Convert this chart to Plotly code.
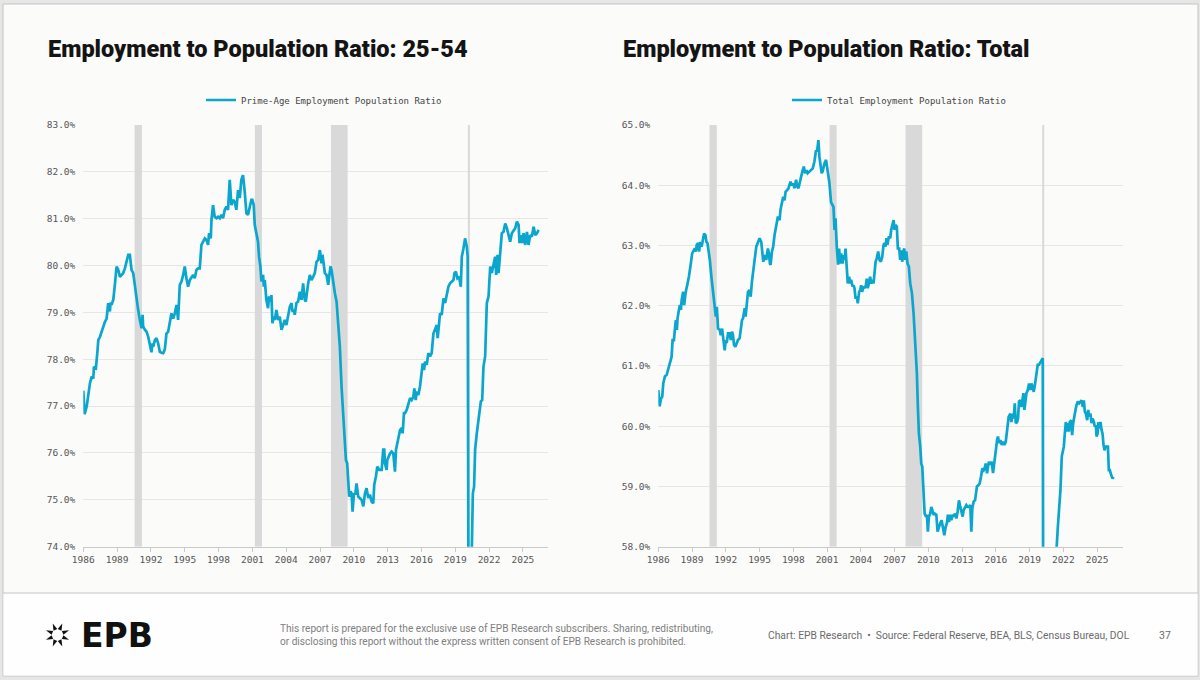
import math
import plotly.graph_objects as go

# ---------------- data ----------------
prime_years = [
    1986.00, 1986.12, 1986.30, 1986.59, 1986.74, 1986.89, 1986.94, 1987.12, 1987.24, 1987.33,
    1987.48, 1987.62, 1987.77, 1987.92, 1988.07, 1988.21, 1988.36, 1988.42, 1988.51, 1988.66,
    1988.80, 1988.95, 1989.10, 1989.25, 1989.40, 1989.54, 1989.69, 1989.84, 1989.99, 1990.13,
    1990.28, 1990.43, 1990.58, 1990.72, 1990.87, 1991.02, 1991.17, 1991.26, 1991.31, 1991.46,
    1991.61, 1991.76, 1991.91, 1992.05, 1992.14, 1992.20, 1992.35, 1992.49, 1992.64, 1992.79,
    1992.94, 1993.09, 1993.23, 1993.38, 1993.53, 1993.68, 1993.82, 1993.97, 1994.12, 1994.27,
    1994.41, 1994.56, 1994.71, 1994.86, 1995.00, 1995.15, 1995.30, 1995.45, 1995.60, 1995.74,
    1995.89, 1996.04, 1996.19, 1996.33, 1996.48, 1996.63, 1996.78, 1996.92, 1997.07, 1997.16,
    1997.31, 1997.37, 1997.51, 1997.66, 1997.81, 1997.96, 1998.11, 1998.25, 1998.40, 1998.55,
    1998.70, 1998.84, 1998.99, 1999.14, 1999.29, 1999.43, 1999.58, 1999.73, 1999.88, 2000.02,
    2000.17, 2000.32, 2000.47, 2000.61, 2000.76, 2000.91, 2001.00, 2001.12, 2001.21, 2001.36,
    2001.50, 2001.59, 2001.71, 2001.80, 2001.95, 2002.01, 2002.10, 2002.24, 2002.39, 2002.48,
    2002.60, 2002.69, 2002.78, 2002.90, 2002.99, 2003.13, 2003.28, 2003.43, 2003.58, 2003.73,
    2003.87, 2004.02, 2004.17, 2004.32, 2004.47, 2004.56, 2004.67, 2004.76, 2004.91, 2005.06,
    2005.21, 2005.36, 2005.50, 2005.65, 2005.74, 2005.86, 2005.95, 2006.10, 2006.24, 2006.39,
    2006.54, 2006.69, 2006.84, 2006.99, 2007.13, 2007.22, 2007.34, 2007.43, 2007.58, 2007.73,
    2007.81, 2007.93, 2008.02, 2008.17, 2008.32, 2008.47, 2008.61, 2008.76, 2008.91, 2009.06,
    2009.21, 2009.30, 2009.41, 2009.50, 2009.59, 2009.71, 2009.80, 2009.89, 2010.01, 2010.13,
    2010.24, 2010.39, 2010.54, 2010.69, 2010.84, 2010.99, 2011.13, 2011.28, 2011.43, 2011.58,
    2011.73, 2011.81, 2011.96, 2012.08, 2012.26, 2012.47, 2012.61, 2012.70, 2012.76, 2012.91,
    2012.97, 2013.06, 2013.21, 2013.36, 2013.50, 2013.65, 2013.74, 2013.86, 2013.98, 2014.10,
    2014.24, 2014.33, 2014.45, 2014.54, 2014.69, 2014.84, 2014.99, 2015.13, 2015.28, 2015.37,
    2015.49, 2015.58, 2015.73, 2015.87, 2016.02, 2016.11, 2016.23, 2016.32, 2016.47, 2016.61,
    2016.76, 2016.91, 2017.06, 2017.21, 2017.36, 2017.44, 2017.59, 2017.65, 2017.80, 2017.95,
    2018.10, 2018.24, 2018.39, 2018.54, 2018.69, 2018.84, 2018.93, 2019.05, 2019.19, 2019.34,
    2019.49, 2019.58, 2019.73, 2019.87, 2020.02, 2020.10, 2020.20, 2020.35, 2020.47, 2020.56,
    2020.67, 2020.76, 2020.91, 2021.06, 2021.15, 2021.27, 2021.39, 2021.50, 2021.65, 2021.80,
    2021.95, 2022.10, 2022.24, 2022.39, 2022.54, 2022.63, 2022.75, 2022.84, 2022.99, 2023.13,
    2023.28, 2023.43, 2023.58, 2023.73, 2023.87, 2024.02, 2024.17, 2024.32, 2024.47, 2024.62,
    2024.70, 2024.82, 2024.94, 2025.06, 2025.21, 2025.36, 2025.50, 2025.65, 2025.80, 2025.95,
    2026.10, 2026.25, 2026.39,
]
prime_values = [
    77.33, 76.83, 76.99, 77.49, 77.63, 77.59, 77.84, 77.81, 78.13, 78.41,
    78.48, 78.59, 78.73, 78.80, 78.87, 79.20, 79.02, 79.21, 79.16, 79.27,
    79.59, 79.98, 79.91, 79.76, 79.80, 79.84, 79.94, 80.12, 80.23, 80.23,
    79.91, 79.84, 79.55, 79.34, 79.05, 78.84, 78.66, 78.95, 78.70, 78.63,
    78.59, 78.48, 78.34, 78.15, 78.34, 78.27, 78.41, 78.45, 78.34, 78.16,
    78.14, 78.13, 78.21, 78.55, 78.59, 78.77, 78.98, 78.87, 78.98, 79.16,
    78.84, 79.59, 79.66, 79.80, 79.98, 79.73, 79.55, 79.69, 79.76, 79.80,
    79.73, 79.91, 79.94, 79.94, 80.44, 80.51, 80.58, 80.55, 80.44, 80.69,
    80.58, 80.97, 81.29, 81.04, 81.01, 81.04, 81.01, 81.08, 81.01, 81.19,
    81.26, 81.19, 81.83, 81.29, 81.40, 81.36, 81.19, 81.61, 81.44, 81.83,
    81.93, 81.58, 81.12, 81.08, 81.26, 81.40, 81.40, 81.29, 80.87, 80.69,
    80.51, 80.19, 79.98, 79.66, 79.80, 79.55, 79.69, 79.27, 79.09, 79.34,
    79.23, 79.37, 78.77, 78.91, 78.84, 79.05, 78.84, 78.91, 78.63, 78.73,
    78.84, 78.73, 78.98, 79.12, 79.20, 79.02, 79.05, 78.95, 79.20, 79.23,
    79.44, 79.27, 79.62, 79.27, 79.23, 79.48, 79.62, 79.80, 79.69, 79.76,
    79.84, 80.08, 80.12, 80.33, 80.05, 80.23, 80.01, 79.84, 79.80, 79.59,
    79.76, 79.98, 79.91, 79.62, 79.41, 79.23, 78.84, 78.27, 77.42, 76.71,
    76.21, 75.85, 75.78, 75.43, 75.07, 75.18, 75.14, 74.75, 75.14, 75.11,
    75.35, 75.07, 75.04, 75.00, 74.86, 75.14, 75.25, 75.04, 75.11, 74.96,
    74.93, 75.32, 75.50, 75.71, 75.64, 75.64, 76.07, 76.07, 75.78, 75.64,
    75.85, 75.92, 75.99, 76.03, 75.99, 75.60, 76.07, 76.21, 76.39, 76.49,
    76.53, 76.42, 76.85, 76.85, 76.92, 77.06, 77.17, 77.13, 77.20, 77.38,
    77.13, 77.31, 77.24, 77.42, 77.74, 77.91, 77.77, 77.95, 77.88, 78.13,
    78.06, 78.13, 78.55, 78.63, 78.73, 78.45, 78.80, 78.98, 78.95, 79.30,
    79.20, 79.34, 79.55, 79.62, 79.66, 79.69, 79.84, 79.87, 79.73, 79.76,
    79.55, 80.19, 80.37, 80.58, 80.40, 80.20, 69.70, 71.50, 74.00, 75.14,
    75.28, 76.07, 76.42, 76.71, 76.85, 77.10, 77.13, 77.84, 78.06, 79.20,
    79.34, 79.98, 79.84, 80.05, 80.19, 79.80, 80.23, 79.84, 80.26, 80.69,
    80.72, 80.90, 80.80, 80.65, 80.51, 80.69, 80.76, 80.80, 80.94, 80.87,
    80.48, 80.65, 80.48, 80.69, 80.44, 80.72, 80.44, 80.65, 80.62, 80.83,
    80.65, 80.69, 80.76,
]

total_years = [
    1986.00, 1986.12, 1986.24, 1986.35, 1986.44, 1986.59, 1986.74, 1986.89, 1987.03, 1987.18,
    1987.27, 1987.39, 1987.48, 1987.56, 1987.65, 1987.71, 1987.83, 1987.92, 1988.01, 1988.07,
    1988.21, 1988.30, 1988.42, 1988.51, 1988.60, 1988.72, 1988.80, 1988.89, 1989.01, 1989.10,
    1989.25, 1989.34, 1989.42, 1989.54, 1989.63, 1989.72, 1989.84, 1989.93, 1990.07, 1990.19,
    1990.28, 1990.37, 1990.49, 1990.58, 1990.72, 1990.87, 1991.02, 1991.11, 1991.20, 1991.31,
    1991.46, 1991.55, 1991.67, 1991.76, 1991.90, 1991.99, 1992.08, 1992.20, 1992.35, 1992.44,
    1992.55, 1992.64, 1992.73, 1992.85, 1992.94, 1993.08, 1993.23, 1993.32, 1993.44, 1993.53,
    1993.68, 1993.76, 1993.85, 1993.97, 1994.12, 1994.21, 1994.32, 1994.41, 1994.56, 1994.71,
    1994.86, 1995.00, 1995.15, 1995.24, 1995.33, 1995.45, 1995.59, 1995.74, 1995.83, 1995.92,
    1995.98, 1996.10, 1996.21, 1996.33, 1996.48, 1996.63, 1996.78, 1996.86, 1996.98, 1997.10,
    1997.22, 1997.31, 1997.45, 1997.57, 1997.75, 1997.87, 1997.99, 1998.10, 1998.25, 1998.34,
    1998.46, 1998.58, 1998.69, 1998.84, 1998.93, 1999.05, 1999.17, 1999.28, 1999.43, 1999.58,
    1999.73, 1999.87, 2000.02, 2000.11, 2000.23, 2000.32, 2000.41, 2000.52, 2000.61, 2000.76,
    2000.91, 2001.05, 2001.20, 2001.35, 2001.57, 2001.66, 2001.75, 2001.86, 2001.98, 2002.07,
    2002.16, 2002.25, 2002.37, 2002.46, 2002.55, 2002.64, 2002.75, 2002.84, 2002.96, 2003.05,
    2003.14, 2003.26, 2003.35, 2003.44, 2003.53, 2003.64, 2003.73, 2003.85, 2003.94, 2004.03,
    2004.12, 2004.24, 2004.33, 2004.45, 2004.53, 2004.62, 2004.71, 2004.83, 2004.92, 2005.04,
    2005.13, 2005.22, 2005.31, 2005.42, 2005.54, 2005.66, 2005.78, 2005.90, 2006.02, 2006.11,
    2006.20, 2006.28, 2006.37, 2006.49, 2006.61, 2006.70, 2006.79, 2006.91, 2007.00, 2007.09,
    2007.20, 2007.29, 2007.41, 2007.50, 2007.59, 2007.68, 2007.77, 2007.86, 2007.95, 2008.04,
    2008.15, 2008.27, 2008.39, 2008.54, 2008.69, 2008.84, 2008.98, 2009.07, 2009.16, 2009.28,
    2009.37, 2009.46, 2009.58, 2009.67, 2009.79, 2009.87, 2009.96, 2010.05, 2010.17, 2010.26,
    2010.35, 2010.47, 2010.56, 2010.71, 2010.82, 2010.94, 2011.06, 2011.18, 2011.30, 2011.42,
    2011.54, 2011.65, 2011.74, 2011.83, 2011.95, 2012.04, 2012.16, 2012.25, 2012.37, 2012.49,
    2012.60, 2012.72, 2012.84, 2012.93, 2013.05, 2013.14, 2013.26, 2013.38, 2013.49, 2013.61,
    2013.73, 2013.82, 2013.91, 2014.03, 2014.15, 2014.24, 2014.32, 2014.44, 2014.56, 2014.68,
    2014.80, 2014.92, 2015.01, 2015.10, 2015.22, 2015.30, 2015.39, 2015.51, 2015.63, 2015.75,
    2015.87, 2015.99, 2016.11, 2016.19, 2016.28, 2016.40, 2016.52, 2016.64, 2016.76, 2016.88,
    2017.00, 2017.14, 2017.29, 2017.38, 2017.47, 2017.59, 2017.68, 2017.77, 2017.89, 2017.97,
    2018.06, 2018.18, 2018.27, 2018.36, 2018.45, 2018.54, 2018.63, 2018.72, 2018.84, 2018.95,
    2019.07, 2019.16, 2019.25, 2019.37, 2019.49, 2019.61, 2019.72, 2019.84, 2019.96, 2020.08,
    2020.17, 2020.25, 2020.42, 2020.58, 2020.75, 2021.00, 2021.25, 2021.39, 2021.51, 2021.63,
    2021.74, 2021.86, 2021.95, 2022.04, 2022.13, 2022.22, 2022.31, 2022.40, 2022.48, 2022.57,
    2022.69, 2022.78, 2022.87, 2022.99, 2023.08, 2023.17, 2023.29, 2023.40, 2023.52, 2023.61,
    2023.73, 2023.82, 2023.91, 2024.00, 2024.12, 2024.21, 2024.29, 2024.41, 2024.50, 2024.59,
    2024.71, 2024.80, 2024.89, 2024.95, 2025.04, 2025.12, 2025.21, 2025.30, 2025.39, 2025.48,
    2025.57, 2025.66, 2025.75, 2025.84, 2025.96, 2026.04, 2026.13, 2026.25, 2026.37, 2026.46,
]
total_values = [
    60.60, 60.33, 60.46, 60.49, 60.71, 60.83, 60.85, 60.96, 61.07, 61.15,
    61.43, 61.43, 61.62, 61.76, 61.60, 61.79, 61.93, 62.01, 61.93, 62.09,
    62.23, 62.01, 62.21, 62.32, 62.37, 62.48, 62.65, 62.70, 62.87, 62.90,
    62.95, 62.90, 63.01, 63.04, 62.90, 63.06, 62.98, 63.06, 63.20, 63.17,
    63.06, 63.04, 62.90, 62.76, 62.48, 62.21, 61.93, 61.82, 61.98, 61.62,
    61.60, 61.51, 61.62, 61.46, 61.26, 61.43, 61.38, 61.54, 61.54, 61.43,
    61.57, 61.51, 61.35, 61.32, 61.38, 61.43, 61.46, 61.60, 61.76, 61.79,
    61.96, 61.82, 61.98, 62.23, 62.26, 62.15, 62.40, 62.51, 62.76, 62.98,
    63.06, 63.12, 63.06, 62.87, 62.73, 62.84, 62.76, 62.95, 62.87, 62.70,
    62.68, 62.90, 62.98, 63.17, 63.31, 63.48, 63.42, 63.59, 63.70, 63.81,
    63.75, 63.89, 63.92, 63.95, 64.06, 64.00, 64.03, 63.95, 64.09, 63.98,
    63.95, 64.09, 64.14, 64.25, 64.31, 64.20, 64.25, 64.20, 64.23, 64.25,
    64.28, 64.39, 64.58, 64.56, 64.75, 64.47, 64.31, 64.20, 64.23, 64.36,
    64.42, 64.25, 64.05, 63.72, 63.64, 63.26, 63.45, 62.98, 62.68, 62.95,
    62.70, 62.87, 62.70, 62.84, 62.76, 62.95, 62.70, 62.37, 62.48, 62.37,
    62.43, 62.32, 62.34, 62.29, 62.12, 62.15, 62.04, 62.23, 62.26, 62.34,
    62.23, 62.32, 62.29, 62.34, 62.45, 62.29, 62.37, 62.48, 62.37, 62.43,
    62.37, 62.65, 62.73, 62.79, 62.90, 62.76, 62.73, 62.81, 63.01, 63.04,
    62.98, 63.12, 63.01, 63.15, 63.12, 63.26, 63.34, 63.42, 63.26, 63.34,
    63.31, 62.95, 62.95, 62.76, 62.92, 62.73, 62.90, 62.95, 62.76, 62.90,
    62.70, 62.65, 62.37, 62.21, 61.87, 61.43, 60.88, 60.32, 59.88, 59.66,
    59.38, 59.33, 58.88, 58.55, 58.50, 58.53, 58.25, 58.50, 58.55, 58.66,
    58.61, 58.53, 58.55, 58.53, 58.25, 58.33, 58.39, 58.44, 58.28, 58.19,
    58.33, 58.39, 58.53, 58.41, 58.53, 58.44, 58.53, 58.50, 58.55, 58.47,
    58.58, 58.77, 58.66, 58.58, 58.50, 58.61, 58.64, 58.69, 58.66, 58.66,
    58.69, 58.25, 58.64, 58.75, 58.77, 58.88, 59.00, 59.02, 59.05, 59.16,
    59.30, 59.27, 59.30, 59.38, 59.22, 59.33, 59.41, 59.36, 59.41, 59.22,
    59.44, 59.60, 59.77, 59.83, 59.72, 59.77, 59.69, 59.74, 59.69, 59.74,
    59.96, 60.16, 60.21, 60.07, 60.21, 60.13, 60.38, 60.05, 60.07, 60.13,
    60.41, 60.43, 60.32, 60.49, 60.55, 60.27, 60.43, 60.55, 60.60, 60.71,
    60.60, 60.71, 60.66, 60.57, 60.71, 60.88, 61.02, 61.02, 61.07, 61.10,
    61.13, 51.30, 52.80, 55.20, 56.60, 57.40, 57.70, 57.95, 58.33, 58.66,
    58.94, 59.50, 59.60, 59.66, 59.88, 60.07, 59.91, 60.05, 59.91, 60.07,
    60.10, 59.85, 60.05, 60.21, 60.27, 60.35, 60.41, 60.38, 60.41, 60.43,
    60.32, 60.43, 60.24, 60.21, 60.10, 60.27, 60.16, 60.21, 60.05, 60.13,
    60.07, 59.99, 60.02, 59.83, 59.88, 60.07, 59.96, 60.07, 59.94, 59.88,
    59.69, 59.60, 59.66, 59.66, 59.66, 59.27, 59.27, 59.19, 59.13, 59.16,
]

recession_start = [1990.55, 2001.22, 2007.97, 2020.12]
recession_end = [1991.20, 2001.85, 2009.45, 2020.30]

tick_years = [1986, 1989, 1992, 1995, 1998, 2001, 2004, 2007, 2010, 2013, 2016, 2019, 2022, 2025]
tick_labels = [str(y) for y in tick_years]
prime_yticks = [74, 75, 76, 77, 78, 79, 80, 81, 82, 83]
total_yticks = [58, 59, 60, 61, 62, 63, 64, 65]
prime_range = [74, 83]
total_range = [58, 65]

titles = ["Employment to Population Ratio: 25-54", "Employment to Population Ratio: Total"]
series_names = ["Prime-Age Employment Population Ratio", "Total Employment Population Ratio"]

# ---------------- layout helpers ----------------
W, H = 1200, 680
def PX(x):
    return x / W
def PY(y):
    return 1 - y / H

LINE = "#0AA6CE"
MONO = "DejaVu Sans Mono"
SANS = "Roboto"
TICKC = "#555555"
BAR = "#d9d9d9"

fig = go.Figure()

# recession shading as filled traces (above gridlines, below the data line)
for xa, ya, yr in (("x", "y", prime_range), ("x2", "y2", total_range)):
    for s, e in zip(recession_start, recession_end):
        fig.add_trace(go.Scatter(x=[s, s, e, e, s], y=[yr[0], yr[1], yr[1], yr[0], yr[0]],
                                 mode="lines", fill="toself", fillcolor=BAR, line=dict(width=0, color=BAR),
                                 xaxis=xa, yaxis=ya, showlegend=False, hoverinfo="skip"))

fig.add_trace(go.Scatter(x=prime_years, y=prime_values, mode="lines", name=series_names[0],
                         line=dict(color=LINE, width=2.7), xaxis="x", yaxis="y", legend="legend",
                         hoverinfo="skip"))
fig.add_trace(go.Scatter(x=total_years, y=total_values, mode="lines", name=series_names[1],
                         line=dict(color=LINE, width=2.7), xaxis="x2", yaxis="y2", legend="legend2",
                         hoverinfo="skip"))

shapes = []
# slide background + frame
shapes.append(dict(type="rect", xref="paper", yref="paper", x0=PX(3), x1=PX(1198), y0=PY(676), y1=PY(4),
                   fillcolor="#fbfbfa", line=dict(color="#c4c4c4", width=1), layer="below"))
shapes.append(dict(type="rect", xref="paper", yref="paper", x0=PX(3.5), x1=PX(1197.5), y0=PY(675.5), y1=PY(593),
                   fillcolor="#fefefe", line=dict(width=0), layer="below"))
shapes.append(dict(type="line", xref="paper", yref="paper", x0=PX(3), x1=PX(1198), y0=PY(593), y1=PY(593),
                   line=dict(color="#c4c4c4", width=1.2), layer="below"))

# logo icon (8 triangles arranged in a ring)
cx, cy, r = 57.5, 635.0, 9.5
for k in range(8):
    a = math.radians(k * 45 + 22.5)
    pts = []
    for rad, da in ((r + 3.0, 0), (r - 3.6, -20), (r - 3.6, 20)):
        aa = a + math.radians(da)
        pts.append((PX(cx + rad * math.cos(aa)), PY(cy + rad * math.sin(aa))))
    path = "M {:.5f} {:.5f} L {:.5f} {:.5f} L {:.5f} {:.5f} Z".format(*pts[0], *pts[1], *pts[2])
    shapes.append(dict(type="path", xref="paper", yref="paper", path=path,
                       fillcolor="#111111", line=dict(width=0), layer="above"))

annotations = [
    dict(text=titles[0], x=PX(46), y=PY(49), xref="paper", yref="paper", xanchor="left", yanchor="middle",
         showarrow=False, font=dict(family=SANS, size=23.5, color="#141414", weight=900)),
    dict(text=titles[1], x=PX(621), y=PY(49), xref="paper", yref="paper", xanchor="left", yanchor="middle",
         showarrow=False, font=dict(family=SANS, size=23.5, color="#141414", weight=900)),
    dict(text="EPB", x=PX(79), y=PY(635), xref="paper", yref="paper", xanchor="left", yanchor="middle",
         showarrow=False, font=dict(family="DejaVu Sans", size=33, color="#111111", weight="bold")),
    dict(text="This report is prepared for the exclusive use of EPB Research subscribers. Sharing, redistributing,"
              "<br>or disclosing this report without the express written consent of EPB Research is prohibited.",
         x=PX(278), y=PY(635), xref="paper", yref="paper", xanchor="left", yanchor="middle", align="left",
         showarrow=False, font=dict(family=SANS, size=10.1, color="#808080")),
    dict(text="Chart: EPB Research  \u2022  Source: Federal Reserve, BEA, BLS, Census Bureau, DOL",
         x=PX(766), y=PY(635), xref="paper", yref="paper", xanchor="left", yanchor="middle",
         showarrow=False, font=dict(family=SANS, size=10.3, color="#6b6b6b")),
    dict(text="37", x=PX(1157), y=PY(635), xref="paper", yref="paper", xanchor="left", yanchor="middle",
         showarrow=False, font=dict(family=SANS, size=10.5, color="#6b6b6b")),
]

xcommon = dict(tickmode="array", tickvals=tick_years, ticktext=tick_labels, showgrid=False, zeroline=False,
               showline=True, linecolor="#c9c9c9", linewidth=1, ticks="outside", ticklen=4,
               tickcolor="#c9c9c9", tickfont=dict(family=MONO, size=9.5, color=TICKC), fixedrange=True,
               automargin=False)
ycommon = dict(showgrid=True, gridcolor="#e6e6e6", gridwidth=1, zeroline=False, showline=False,
               ticks="", tickmode="array", tickfont=dict(family=MONO, size=9.5, color=TICKC),
               ticklabelstandoff=7, fixedrange=True, automargin=False)

legend_common = dict(orientation="h", yanchor="middle", xanchor="center", bgcolor="rgba(0,0,0,0)",
                     font=dict(family=MONO, size=9, color="#444444"), itemwidth=30, borderwidth=0)

fig.update_layout(
    width=W, height=H, margin=dict(l=0, r=0, t=0, b=0, pad=0, autoexpand=False),
    paper_bgcolor="#e6e6e6", plot_bgcolor="rgba(0,0,0,0)",
    showlegend=True,
    xaxis=dict(domain=[PX(83.3), PX(547.7)], range=[1986, 2027.2], anchor="y", **xcommon),
    yaxis=dict(domain=[PY(546.7), PY(125)], range=prime_range, tickvals=prime_yticks,
               ticktext=["{:.1f}%".format(v) for v in prime_yticks], anchor="x", **ycommon),
    xaxis2=dict(domain=[PX(658.3), PX(1123)], range=[1986, 2027.3], anchor="y2", **xcommon),
    yaxis2=dict(domain=[PY(546.7), PY(125)], range=total_range, tickvals=total_yticks,
                ticktext=["{:.1f}%".format(v) for v in total_yticks], anchor="x2", **ycommon),
    legend=dict(x=PX(324), y=PY(100), **legend_common),
    legend2=dict(x=PX(899), y=PY(100), **legend_common),
    shapes=shapes,
    annotations=annotations,
)

fig.write_html("out.html")
